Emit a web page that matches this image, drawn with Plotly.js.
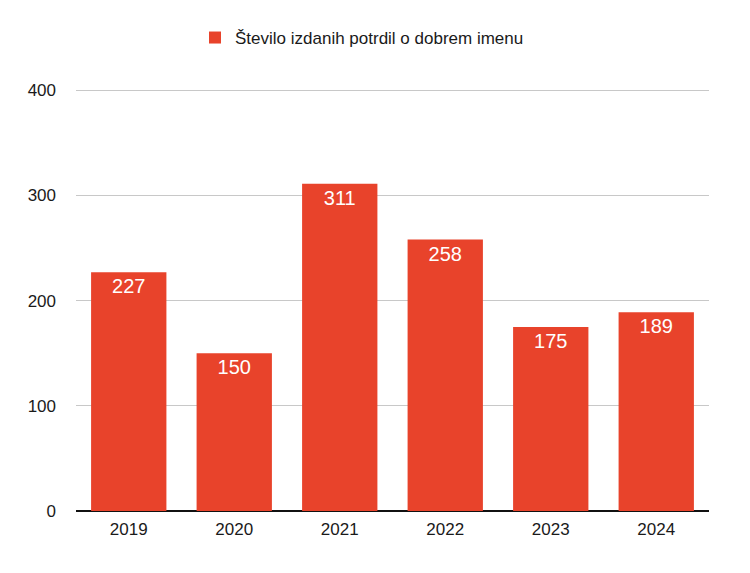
<!DOCTYPE html>
<html>
<head>
<meta charset="utf-8">
<script src="https://cdn.plot.ly/plotly-3.0.1.min.js"></script>
<style>
  body { margin: 0; background: #fff; }
  #chart { width: 750px; height: 573px; }
</style>
</head>
<body>
<div id="chart"></div>
<script>
// data
var years = ['2019', '2020', '2021', '2022', '2023', '2024'];
var certificates = [227, 150, 311, 258, 175, 189];
var seriesName = 'Število izdanih potrdil o dobrem imenu';

var barTrace = {
  x: years,
  y: certificates,
  name: seriesName,
  type: 'bar',
  text: certificates.map(String),
  textposition: 'inside',
  insidetextanchor: 'end',
  textangle: 0,
  insidetextfont: { color: '#ffffff', size: 20, family: 'Liberation Sans, Arial, sans-serif' },
  marker: { color: '#E8432B' },
  hoverinfo: 'x+y'
};

var layout = {
  width: 750,
  height: 573,
  margin: { l: 75.5, r: 40.5, t: 85.8, b: 62 },
  paper_bgcolor: '#ffffff',
  plot_bgcolor: '#ffffff',
  font: { family: 'Liberation Sans, Arial, sans-serif', size: 17, color: '#1a1a1a' },
  bargap: 0.286,
  showlegend: true,
  legend: {
    orientation: 'h',
    x: 0.188,
    xanchor: 'left',
    y: 1.113,
    yanchor: 'middle',
    font: { size: 17, color: '#1a1a1a' }
  },
  xaxis: {
    type: 'category',
    showgrid: false,
    ticks: '',
    ticklabelstandoff: 6,
    showline: false,
    zeroline: false
  },
  yaxis: {
    range: [0, 404],
    tickvals: [0, 100, 200, 300, 400],
    showgrid: true,
    gridcolor: '#c8c8c8',
    gridwidth: 1,
    zeroline: true,
    zerolinecolor: '#111111',
    zerolinewidth: 2,
    ticks: '',
    ticklabelstandoff: 19,
    showline: false
  }
};

Plotly.newPlot('chart', [barTrace], layout, { displayModeBar: false, staticPlot: true });
</script>
</body>
</html>
